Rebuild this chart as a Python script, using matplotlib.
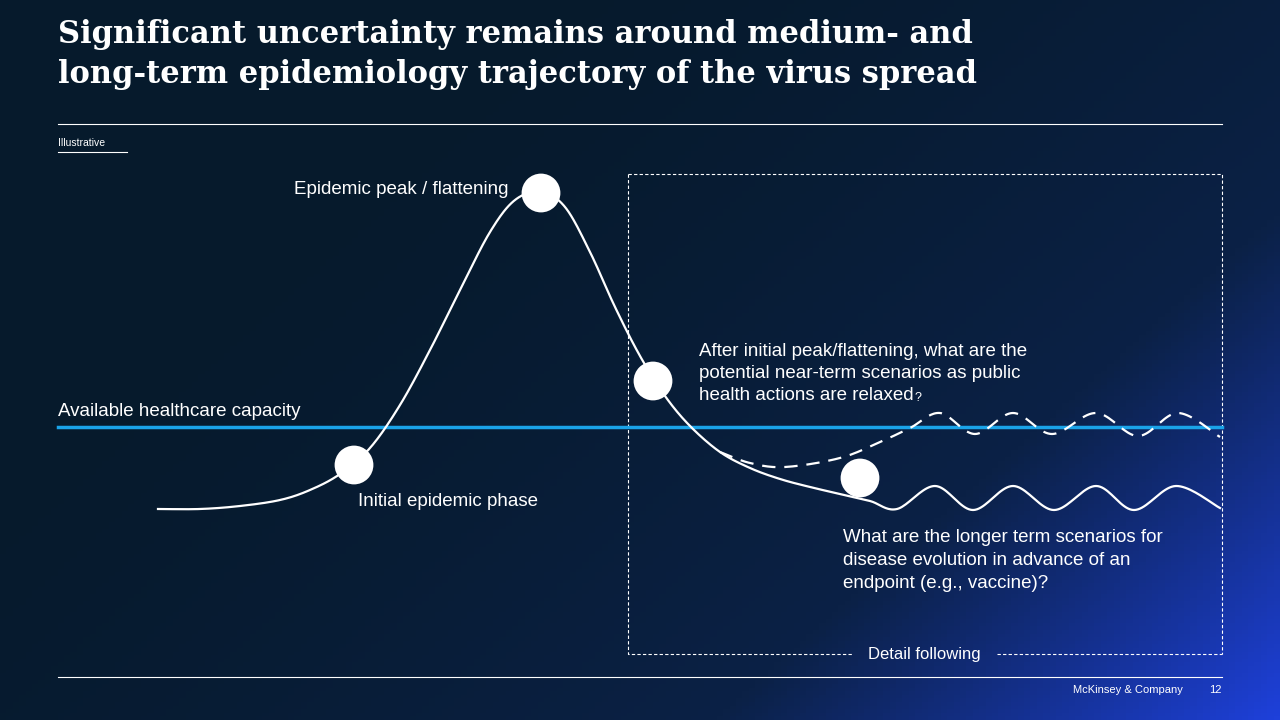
import numpy as np
import matplotlib
matplotlib.use("Agg")
import matplotlib.pyplot as plt
from matplotlib.colors import LinearSegmentedColormap

# Illustrative curve control points (picture coordinates)
main_x = [158, 200, 240, 280, 310, 340, 370, 400, 430, 460, 490, 515, 541, 565, 590, 615, 640, 665, 690,
          720, 750, 780, 810, 840, 870, 897, 935, 973, 1013, 1054, 1096, 1134, 1176, 1220]
main_y = [509, 509, 506, 500, 490, 474, 448, 405, 350, 290, 232, 200, 192, 207, 252, 307, 356, 396, 426,
          452, 468, 479, 487, 494, 501, 509, 486, 510, 486, 510, 486, 510, 486, 508]
dash_x = [720, 750, 785, 840, 880, 910, 940, 975, 1013, 1052, 1096, 1138, 1178, 1220]
dash_y = [452, 463, 467, 458, 442, 428, 413, 434, 413, 434, 413, 436, 413, 437]
capacity_y = 427
markers_x = [354, 541, 653, 860]
markers_y = [465, 193, 381, 478]

def smooth(xs, ys, n=20):
    p = np.column_stack([xs, ys]).astype(float)
    p = np.vstack([p[0], p, p[-1]])
    out = []
    for i in range(1, len(p) - 2):
        p0, p1, p2, p3 = p[i-1], p[i], p[i+1], p[i+2]
        t = np.linspace(0, 1, n, endpoint=False)[:, None]
        out.append(0.5*((2*p1) + (-p0+p2)*t + (2*p0-5*p1+4*p2-p3)*t**2 + (-p0+3*p1-3*p2+p3)*t**3))
    out.append(p[-2][None])
    a = np.vstack(out)
    return a[:, 0], a[:, 1]

plt.rcParams['font.family'] = ['Liberation Sans', 'DejaVu Sans']
fig = plt.figure(figsize=(12.8, 7.2), dpi=100)
ax = fig.add_axes([0, 0, 1, 1])
ax.set_xlim(0, 1280); ax.set_ylim(720, 0); ax.axis("off")

yy, xx = np.mgrid[0:1:200j, 0:1:200j]
g = np.clip((xx*0.8 + yy*0.5 - 0.3) / 1.0, 0, 1) ** 1.6
cmap = LinearSegmentedColormap.from_list("bg", ["#061a2c", "#0b2146", "#1e40da"])
ax.imshow(g, cmap=cmap, extent=[0, 1280, 720, 0], aspect="auto", zorder=0)

W = "white"
FS = 13.5
for yv, t in [(35, "Significant uncertainty remains around medium- and"),
              (75, "long-term epidemiology trajectory of the virus spread")]:
    ax.text(58, yv, t, color=W, fontsize=22, fontweight="bold", family="DejaVu Serif", va="center")
ax.plot([58, 1222], [124, 124], color=W, lw=0.8)
ax.plot([58, 1222], [677, 677], color=W, lw=0.8)
ax.text(58, 143, "Illustrative", color=W, fontsize=7.5, va="center")
ax.plot([58, 127], [152, 152], color=W, lw=0.8)

ax.plot([628, 1222, 1222], [174, 174, 654], color=W, lw=0.8, ls=(0, (3, 2)))
ax.plot([628, 628, 853], [174, 654, 654], color=W, lw=0.8, ls=(0, (3, 2)))
ax.plot([997, 1222], [654, 654], color=W, lw=0.8, ls=(0, (3, 2)))
ax.text(924, 654, "Detail following", color=W, fontsize=12, ha="center", va="center")

ax.plot([58, 1222], [capacity_y, capacity_y], color="#1aa3e8", lw=2.5, zorder=2)
ax.text(58, 411, "Available healthcare capacity", color=W, fontsize=FS, va="center")

x, y = smooth(main_x, main_y); ax.plot(x, y, color=W, lw=1.6, zorder=3)
x, y = smooth(dash_x, dash_y); ax.plot(x, y, color=W, lw=1.6, ls=(0, (6, 4)), zorder=3)
ax.scatter(markers_x, markers_y, s=780, color=W, zorder=4, edgecolors="none")

ax.text(508, 189, "Epidemic peak / flattening", color=W, fontsize=FS, ha="right", va="center")
ax.text(358, 502, "Initial epidemic phase", color=W, fontsize=FS, va="center")
for i, t in enumerate(["After initial peak/flattening, what are the",
                       "potential near-term scenarios as public"]):
    ax.text(699, 352 + 22*i, t, color=W, fontsize=FS, va="center")
tx = ax.text(699, 396, "health actions are relaxed", color=W, fontsize=FS, va="center")
fig.canvas.draw()
bb = tx.get_window_extent()
ax.text(bb.x1 + 1, 398, "?", color=W, fontsize=9, va="center")
for i, t in enumerate(["What are the longer term scenarios for",
                       "disease evolution in advance of an",
                       "endpoint (e.g., vaccine)?"]):
    ax.text(843, 538 + 22.5*i, t, color=W, fontsize=FS, va="center")

ax.text(1183, 690, "McKinsey & Company", color=W, fontsize=8, ha="right", va="center")
ax.text(1222, 690, "12", color=W, fontsize=8, ha="right", va="center")

fig.savefig("out.png", dpi=100)
